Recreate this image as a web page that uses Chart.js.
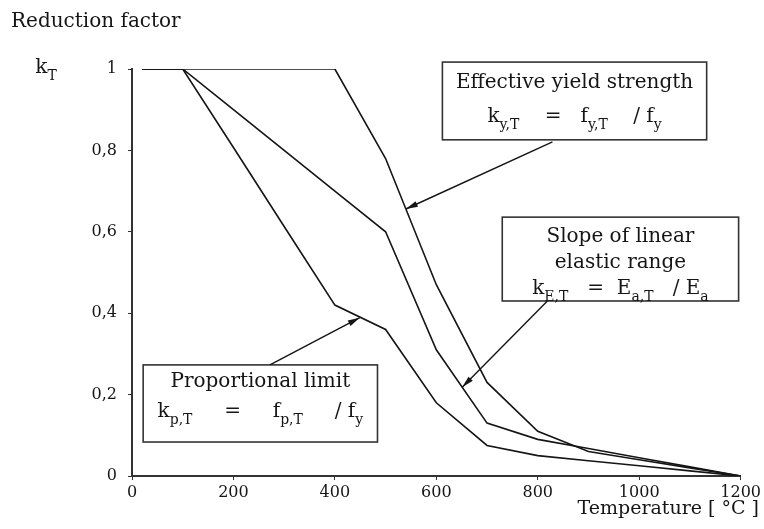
<!DOCTYPE html>
<html>
<head>
<meta charset="utf-8">
<script src="https://cdn.jsdelivr.net/npm/chart.js@4.4.1/dist/chart.umd.min.js"></script>
<style>
  html, body { margin: 0; padding: 0; background: #fff; }
  #wrap { width: 764px; height: 529px; }
</style>
</head>
<body>
<div id="wrap"><canvas id="kChart" width="764" height="529"></canvas></div>
<script>
// Steel reduction factors vs temperature
const temperature = [20, 100, 200, 300, 400, 500, 600, 700, 800, 900, 1000, 1100, 1200];
const kYield = [1, 1, 1, 1, 1, 0.78, 0.47, 0.23, 0.11, 0.06, 0.04, 0.02, 0];
const kProp = [1, 1, 0.807, 0.613, 0.42, 0.36, 0.18, 0.075, 0.05, 0.0375, 0.025, 0.0125, 0];
const kElastic = [1, 1, 0.9, 0.8, 0.7, 0.6, 0.31, 0.13, 0.09, 0.0675, 0.045, 0.0225, 0];
const xTicks = [0, 200, 400, 600, 800, 1000, 1200];
const yTicks = [0, 0.2, 0.4, 0.6, 0.8, 1];

const SERIF = '"DejaVu Serif", "Liberation Serif", serif';
const INK = '#151515';

// label boxes, corners in data units (temperature, k); lineY = text centre below box top
const boxes = [
  {
    x0: 612, x1: 1133, y0: 1.017, y1: 0.826,
    lineY: [21, 55],
    lines: [
      [{ t: 'Effective yield strength' }],
      [{ t: 'k' }, { t: 'y,T', sub: true }, { t: '    =   f' }, { t: 'y,T', sub: true }, { t: '    / f' }, { t: 'y', sub: true }]
    ],
    arrow: { from: [829, 0.821], to: [540, 0.656] }
  },
  {
    x0: 730, x1: 1196, y0: 0.636, y1: 0.43,
    lineY: [20, 46, 72],
    lines: [
      [{ t: 'Slope of linear' }],
      [{ t: 'elastic range' }],
      [{ t: 'k' }, { t: 'E,T', sub: true }, { t: '   =  E' }, { t: 'a,T', sub: true }, { t: '   / E' }, { t: 'a', sub: true }]
    ],
    arrow: { from: [819, 0.43], to: [651, 0.218] }
  },
  {
    x0: 22, x1: 484, y0: 0.273, y1: 0.0835,
    lineY: [17, 47],
    lines: [
      [{ t: 'Proportional limit' }],
      [{ t: 'k' }, { t: 'p,T', sub: true }, { t: '     =     f' }, { t: 'p,T', sub: true }, { t: '     / f' }, { t: 'y', sub: true }]
    ],
    arrow: { from: [272, 0.273], to: [449, 0.389] }
  }
];

function toPoints(ys) {
  return temperature.map((t, i) => ({ x: t, y: ys[i] }));
}

// draws a line of text with subscript pieces, centred on cx
function drawRuns(ctx, runs, cx, cy, size) {
  const subSize = Math.round(size * 0.7);
  let total = 0;
  runs.forEach(r => {
    ctx.font = (r.sub ? subSize : size) + 'px ' + SERIF;
    r.w = ctx.measureText(r.t).width;
    total += r.w;
  });
  let x = cx - total / 2;
  ctx.textAlign = 'left';
  ctx.textBaseline = 'middle';
  runs.forEach(r => {
    ctx.font = (r.sub ? subSize : size) + 'px ' + SERIF;
    ctx.fillText(r.t, x, r.sub ? cy + size * 0.42 : cy);
    x += r.w;
  });
}

function drawArrow(ctx, x1, y1, x2, y2) {
  ctx.beginPath();
  ctx.moveTo(x1, y1);
  ctx.lineTo(x2, y2);
  ctx.stroke();
  const a = Math.atan2(y2 - y1, x2 - x1);
  const len = 12, half = 3;
  ctx.beginPath();
  ctx.moveTo(x2, y2);
  ctx.lineTo(x2 - len * Math.cos(a) + half * Math.sin(a), y2 - len * Math.sin(a) - half * Math.cos(a));
  ctx.lineTo(x2 - len * Math.cos(a) - half * Math.sin(a), y2 - len * Math.sin(a) + half * Math.cos(a));
  ctx.closePath();
  ctx.fill();
}

const labelsPlugin = {
  id: 'labels',
  afterDraw(chart) {
    const ctx = chart.ctx;
    const xs = chart.scales.x, ys = chart.scales.y;
    ctx.save();
    ctx.fillStyle = INK;

    // axis captions
    ctx.font = '20px ' + SERIF;
    ctx.textAlign = 'left';
    ctx.textBaseline = 'middle';
    ctx.fillText('Reduction factor', 11, 22);
    drawRuns(ctx, [{ t: 'k' }, { t: 'T', sub: true }], 46, 68, 20);
    ctx.font = '19px ' + SERIF;
    ctx.textAlign = 'right';
    ctx.fillText('Temperature [ °C ]', 759, 509);

    boxes.forEach(b => {
      const left = xs.getPixelForValue(b.x0), right = xs.getPixelForValue(b.x1);
      const top = ys.getPixelForValue(b.y0), bottom = ys.getPixelForValue(b.y1);
      ctx.fillStyle = '#fff';
      ctx.fillRect(left, top, right - left, bottom - top);
      ctx.lineWidth = 1.6;
      ctx.strokeStyle = '#333';
      ctx.strokeRect(left, top, right - left, bottom - top);

      ctx.fillStyle = INK;
      b.lines.forEach((runs, i) => {
        drawRuns(ctx, runs, (left + right) / 2, top + b.lineY[i], 20);
      });

      ctx.lineWidth = 1.4;
      ctx.strokeStyle = INK;
      drawArrow(ctx,
        xs.getPixelForValue(b.arrow.from[0]), ys.getPixelForValue(b.arrow.from[1]),
        xs.getPixelForValue(b.arrow.to[0]), ys.getPixelForValue(b.arrow.to[1]));
    });
    ctx.restore();
  }
};

const lineStyle = {
  borderColor: INK,
  borderWidth: 1.6,
  pointRadius: 0,
  tension: 0,
  fill: false
};

const ctx = document.getElementById('kChart').getContext('2d');
new Chart(ctx, {
  type: 'line',
  data: {
    datasets: [
      { label: 'k_y', data: toPoints(kYield), ...lineStyle },
      { label: 'k_E', data: toPoints(kElastic), ...lineStyle },
      { label: 'k_p', data: toPoints(kProp), ...lineStyle }
    ]
  },
  options: {
    responsive: false,
    animation: false,
    layout: { padding: { top: 69, right: 22, left: 0, bottom: 0 } },
    plugins: { legend: { display: false }, tooltip: { enabled: false } },
    scales: {
      x: {
        type: 'linear',
        min: 0,
        max: 1200,
        afterBuildTicks: s => { s.ticks = xTicks.map(v => ({ value: v })); },
        afterFit: s => { s.height = 53; },
        ticks: {
          color: INK,
          font: { family: SERIF, size: 16 },
          padding: 3,
          maxRotation: 0,
          callback: v => String(v)
        },
        grid: { drawOnChartArea: false, tickLength: 4, color: '#333' },
        border: { color: '#333', width: 2 }
      },
      y: {
        min: 0,
        max: 1,
        afterBuildTicks: s => { s.ticks = yTicks.map(v => ({ value: v })); },
        afterFit: s => { s.width = 132; },
        ticks: {
          color: INK,
          font: { family: SERIF, size: 16 },
          padding: 11,
          callback: v => (v === 0 || v === 1) ? String(v) : v.toFixed(1).replace('.', ',')
        },
        grid: { drawOnChartArea: false, tickLength: 4, color: '#333' },
        border: { color: '#333', width: 2 }
      }
    }
  },
  plugins: [labelsPlugin]
});
</script>
</body>
</html>
